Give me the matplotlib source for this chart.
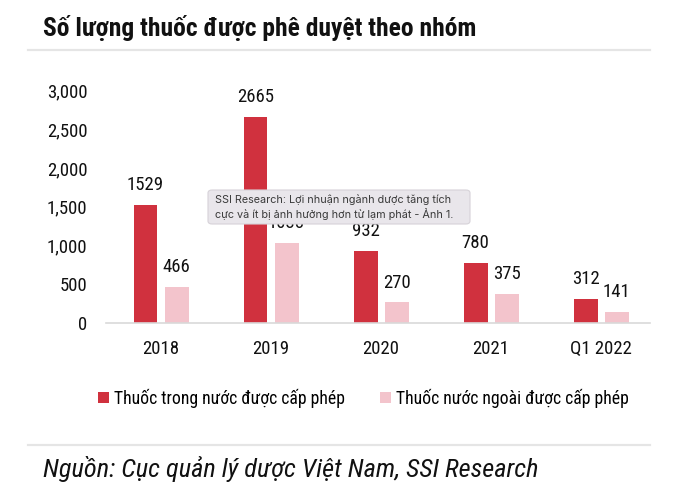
import matplotlib
matplotlib.use("Agg")
import matplotlib.pyplot as plt
from matplotlib.lines import Line2D
from matplotlib.patches import FancyBboxPatch
import numpy as np

# ---- data ----
categories = ["2018", "2019", "2020", "2021", "Q1 2022"]
domestic = [1529, 2665, 932, 780, 312]
foreign = [466, 1038, 270, 375, 141]
series_names = ["Thuốc trong nước được cấp phép", "Thuốc nước ngoài được cấp phép"]
yticks = [0, 500, 1000, 1500, 2000, 2500, 3000]
title = "Số lượng thuốc được phê duyệt theo nhóm"
source = "Nguồn: Cục quản lý dược Việt Nam, SSI Research"
tooltip = "SSI Research: Lợi nhuận ngành dược tăng tích\ncực và ít bị ảnh hưởng hơn từ lạm phát - Ảnh 1."

NARROW = ["Liberation Sans Narrow", "DejaVu Sans Condensed", "Roboto Condensed", "Liberation Sans", "DejaVu Sans"]
RED = "#d0313e"
PINK = "#f3c4cc"

W, H = 680, 496
fig = plt.figure(figsize=(W / 100, H / 100), dpi=100)
fig.patch.set_facecolor("white")

def fx(px):
    return px / W

def fy(py):
    return 1 - py / H

ax = fig.add_axes([fx(106), fy(323), fx(650) - fx(106), fy(90.7) - fy(323)])
x = np.arange(len(categories))
bw = 0.218
off = 0.141
b1 = ax.bar(x - off, domestic, bw, color=RED, label=series_names[0], zorder=2)
b2 = ax.bar(x + off, foreign, bw, color=PINK, label=series_names[1], zorder=2)

for xi, v in zip(x - off, domestic):
    ax.annotate(str(v), (xi, v), xytext=(0, 10.5), textcoords="offset points",
                ha="center", va="baseline", fontsize=13.5, family=NARROW,
                color="#111111", annotation_clip=False)
for xi, v in zip(x + off, foreign):
    ax.annotate(str(v), (xi, v), xytext=(0, 10.5), textcoords="offset points",
                ha="center", va="baseline", fontsize=13.5, family=NARROW,
                color="#111111", annotation_clip=False)

ax.set_xlim(-0.5, 4.445)
ax.set_ylim(0, 3000)
ax.set_yticks(yticks)
ax.set_yticklabels([f"{t:,}" for t in yticks])
ax.set_xticks(x)
ax.set_xticklabels(categories)
for lab in ax.get_yticklabels() + ax.get_xticklabels():
    lab.set_family(NARROW)
    lab.set_fontsize(13.5)
    lab.set_color("#111111")
ax.tick_params(axis="y", length=0, pad=13.5)
ax.tick_params(axis="x", length=0, pad=12)
for s in ["top", "right", "left"]:
    ax.spines[s].set_visible(False)
ax.spines["bottom"].set_color("#d9d9d9")
ax.spines["bottom"].set_linewidth(1.2)
ax.set_facecolor("white")

# title and separators
fig.text(fx(43), fy(36), title, fontsize=18.4, fontweight="bold", family=NARROW,
         ha="left", va="baseline", color="#111111")
fig.add_artist(Line2D([fx(28), fx(650)], [fy(50), fy(50)], color="#e5e5e5", lw=1.6,
                      transform=fig.transFigure))
fig.add_artist(Line2D([fx(28), fx(650)], [fy(445), fy(445)], color="#e5e5e5", lw=1.6,
                      transform=fig.transFigure))

# legend
leg = fig.legend(handles=[b1, b2], labels=series_names, loc="center left",
                 bbox_to_anchor=(fx(98), fy(398)), ncol=2, frameon=False,
                 prop={"family": NARROW, "size": 12.7},
                 handlelength=0.6, handleheight=0.6, handletextpad=0.3,
                 columnspacing=2.0, borderpad=0, borderaxespad=0)

# source
fig.text(fx(43), fy(477), source, fontsize=19, style="italic", family=NARROW,
         ha="left", va="baseline", color="#111111")

# tooltip overlay
box = FancyBboxPatch((fx(208), fy(224)), fx(470) - fx(208), fy(190) - fy(224),
                     boxstyle="round,pad=0,rounding_size=0.006",
                     transform=fig.transFigure, fc="#e9e6eb", ec="#d6d2d8", lw=0.8,
                     zorder=5)
fig.add_artist(box)
fig.text(fx(215), fy(207), tooltip, fontsize=7.8, family=["Inter", "Open Sans", "DejaVu Sans"],
         ha="left", va="center", color="#3a3a3a", linespacing=1.25, zorder=6)

fig.savefig("out.png", dpi=100, facecolor="white")
